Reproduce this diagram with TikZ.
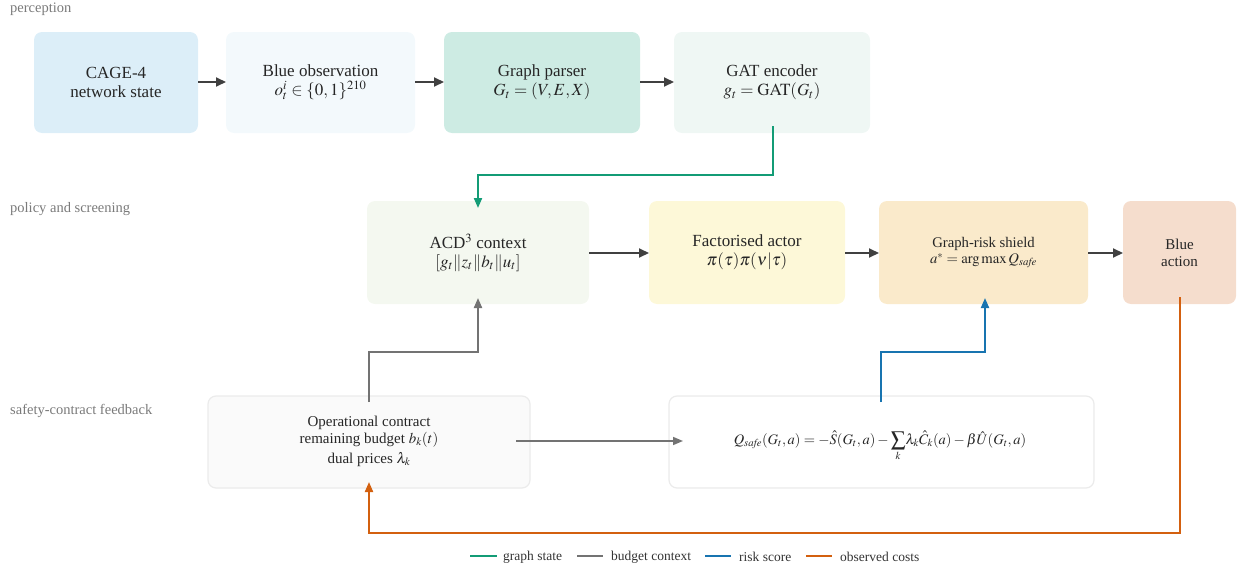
\documentclass[tikz,border=0pt]{standalone}
\usepackage{mathptmx}
\usepackage{fontspec}
\setmainfont{Liberation Serif}
\usetikzlibrary{arrows.meta}
\definecolor{cA}{HTML}{DCEEF8}
\definecolor{cB}{HTML}{F3F9FC}
\definecolor{cC}{HTML}{CDEBE3}
\definecolor{cD}{HTML}{EFF7F4}
\definecolor{cE}{HTML}{F4F8F0}
\definecolor{cF}{HTML}{FDF8D8}
\definecolor{cG}{HTML}{FAEACB}
\definecolor{cH}{HTML}{F5DDCD}
\definecolor{cI}{HTML}{FAFAFA}
\definecolor{bd}{HTML}{EBEBEB}
\definecolor{dk}{HTML}{404040}
\definecolor{gr}{HTML}{737373}
\definecolor{gn}{HTML}{139C76}
\definecolor{bl}{HTML}{1874B0}
\definecolor{og}{HTML}{D3600F}
\definecolor{lb}{HTML}{7A7A7A}
\tikzset{
  box/.style={align=center, inner sep=0pt, font=\fontsize{17}{19}\selectfont, text=black!85},
  flow/.style={draw=dk, line width=2pt, -{Triangle[length=10pt,width=9pt]}},
  conn/.style={line width=2pt, -{Triangle[length=10pt,width=8pt]}},
  sect/.style={anchor=north west, inner sep=0pt, text=lb, font=\fontsize{14.5}{16}\selectfont},
  leg/.style={anchor=west, inner sep=0pt, font=\fontsize{13.5}{15}\selectfont, text=black!80},
}
\begin{document}
\begin{tikzpicture}[x=1pt,y=-1pt]
\useasboundingbox (0,0) rectangle (1240,570);
% boxes
\fill[cA, rounded corners=8pt] (34,32) rectangle (198,133);
\node[box] (cage) at (116,82.5) {CAGE-4\\network state};
\fill[cB, rounded corners=8pt] (226,32) rectangle (415,133);
\node[box] (obs) at (320.5,82.5) {Blue observation\\$o_t^i\in\{0,1\}^{210}$};
\fill[cC, rounded corners=8pt] (444,32) rectangle (640,133);
\node[box] (gp) at (542,82.5) {Graph parser\\$G_t=(V,E,X)$};
\fill[cD, rounded corners=8pt] (674,32) rectangle (870,133);
\node[box] (gat) at (772,82.5) {GAT encoder\\$g_t=\mathrm{GAT}(G_t)$};
\fill[cE, rounded corners=8pt] (367,201) rectangle (589,304);
\node[box] (acd) at (478,252.5) {ACD$^3$ context\\$[g_t\|z_t\|b_t\|u_t]$};
\fill[cF, rounded corners=8pt] (649,201) rectangle (845,304);
\node[box] (fa) at (747,252.5) {Factorised actor\\$\pi(\tau)\pi(\nu|\tau)$};
\fill[cG, rounded corners=8pt] (879,201) rectangle (1088,304);
\node[box, font=\fontsize{14.7}{16.5}\selectfont] (sh) at (983.5,252.5) {Graph-risk shield\\$a^*=\arg\max Q_{\mathit{safe}}$};
\fill[cH, rounded corners=8pt] (1123,201) rectangle (1236,304);
\node[box, font=\fontsize{15}{17}\selectfont] (ba) at (1179.5,252.5) {Blue\\action};
\filldraw[fill=cI, draw=bd, line width=1.2pt, rounded corners=8pt] (208,396) rectangle (530,488);
\node[box, font=\fontsize{15}{17}\selectfont] (oc) at (369,441) {Operational contract\\remaining budget $b_k(t)$\\[3pt]dual prices $\lambda_k$};
\filldraw[fill=white, draw=bd, line width=1.2pt, rounded corners=8pt] (669,396) rectangle (1094,488);
\node[box, font=\fontsize{14.5}{16}\selectfont] (q) at (880,446) {$\displaystyle Q_{\mathit{safe}}(G_t,a)=-\hat S(G_t,a)-\sum_k\!\lambda_k\hat C_k(a)-\beta\hat U(G_t,a)$};
% anchors for box edges
\coordinate (cageE) at (198,82);
\coordinate (obsW) at (226,82);
\coordinate (obsE) at (415,82);
\coordinate (gpW) at (444,82);
\coordinate (gpE) at (640,82);
\coordinate (gatW) at (674,82);
\coordinate (gatS) at (773,126);
\coordinate (acdN) at (478,208);
\coordinate (acdS) at (478,298);
\coordinate (acdE) at (589,253);
\coordinate (faW) at (649,253);
\coordinate (faE) at (845,253);
\coordinate (shW) at (879,253);
\coordinate (shE) at (1088,253);
\coordinate (shS) at (985,298);
\coordinate (baW) at (1123,253);
\coordinate (baS) at (1180,297);
\coordinate (ocN) at (369,402);
\coordinate (ocE) at (516,441);
\coordinate (ocS) at (369,482);
\coordinate (qW) at (683,441);
\coordinate (qN) at (881,402);
% flow arrows
\draw[flow] (cageE) -- (obsW);
\draw[flow] (obsE) -- (gpW);
\draw[flow] (gpE) -- (gatW);
\draw[flow] (acdE) -- (faW);
\draw[flow] (faE) -- (shW);
\draw[flow] (shE) -- (baW);
% coloured connectors
\draw[conn, color=gn] (gatS) |- (620,175) -| (acdN);
\draw[conn, color=gr] (ocN) |- (420,352) -| (acdS);
\draw[conn, color=gr, line width=1.6pt] (ocE) -- (qW);
\draw[conn, color=bl] (qN) |- (930,352) -| (shS);
\draw[conn, color=og] (baS) |- (800,533) -| (ocS);
% section labels
\node[sect] (s1) at (10,3) {perception};
\node[sect] (s2) at (10,202) {policy and screening};
\node[sect] (s3) at (10,404) {safety-contract feedback};
% legend
\coordinate (l1a) at (470,556); \coordinate (l1b) at (497,556);
\draw[gn, line width=2.5pt] (l1a) -- (l1b);
\node[leg] (t1) at (503,557) {graph state};
\coordinate (l2a) at (577,556); \coordinate (l2b) at (603,556);
\draw[gr, line width=2.5pt] (l2a) -- (l2b);
\node[leg] (t2) at (611,557) {budget context};
\coordinate (l3a) at (705,556); \coordinate (l3b) at (731,556);
\draw[bl, line width=2.5pt] (l3a) -- (l3b);
\node[leg] (t3) at (739,557) {risk score};
\coordinate (l4a) at (806,556); \coordinate (l4b) at (832,556);
\draw[og, line width=2.5pt] (l4a) -- (l4b);
\node[leg] (t4) at (840,557) {observed costs};
\end{tikzpicture}
\end{document}
